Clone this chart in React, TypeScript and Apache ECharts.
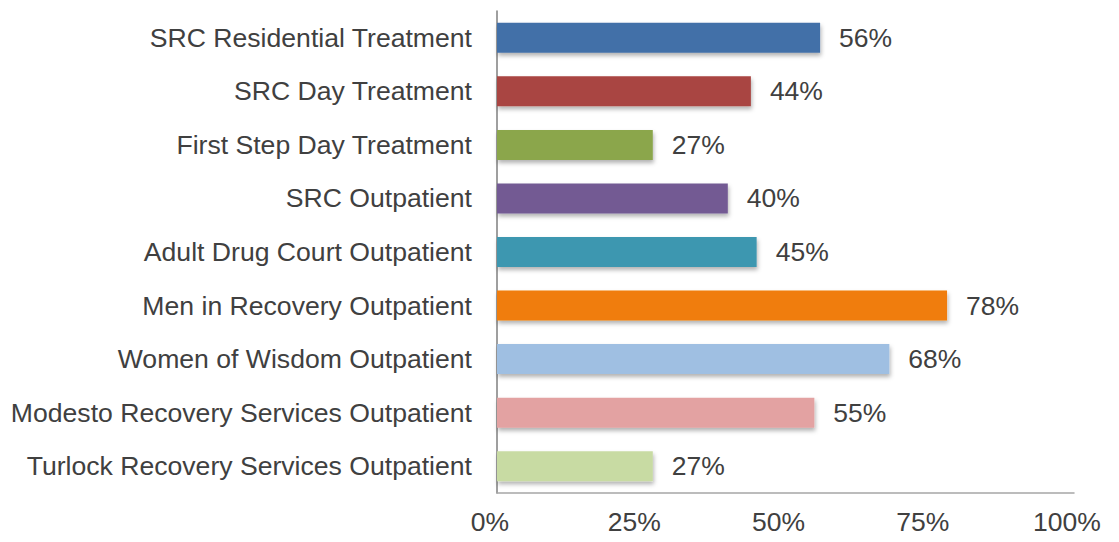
import React, { useEffect, useRef } from "react";
import * as echarts from "echarts";

const categories = [
  "SRC Residential Treatment",
  "SRC Day Treatment",
  "First Step Day Treatment",
  "SRC Outpatient",
  "Adult Drug Court Outpatient",
  "Men in Recovery Outpatient",
  "Women of Wisdom Outpatient",
  "Modesto Recovery Services Outpatient",
  "Turlock Recovery Services Outpatient",
];
const values = [56, 44, 27, 40, 45, 78, 68, 55, 27];
const barColors = [
  "#4370a8",
  "#a94542",
  "#8ba64b",
  "#735a93",
  "#3d97b0",
  "#f07d08",
  "#9fbfe2",
  "#e3a2a2",
  "#c8dba3",
];
const xTicks = [0, 25, 50, 75, 100];

export default function App() {
  const ref = useRef<HTMLDivElement>(null);
  useEffect(() => {
    if (!ref.current) return;
    const chart = echarts.init(ref.current, null, { renderer: "svg" });
    const font = "'Liberation Sans', Arial, sans-serif";
    chart.setOption({
      animation: false,
      backgroundColor: "#ffffff",
      grid: { left: 497, right: 45, top: 11, bottom: 49, containLabel: false },
      xAxis: {
        type: "value",
        min: xTicks[0],
        max: xTicks[xTicks.length - 1],
        interval: 25,
        splitLine: { show: false },
        axisTick: { show: false },
        axisLine: { show: true, lineStyle: { color: "#a6a6a6", width: 1.5 } },
        axisLabel: {
          formatter: (v: number) => v + "%",
          fontSize: 26.5,
          fontFamily: font,
          color: "#404040",
          margin: 15,
          padding: [0, 14, 0, 0],
        },
      },
      yAxis: {
        type: "category",
        data: categories,
        inverse: true,
        axisTick: { show: false },
        axisLine: { show: true, lineStyle: { color: "#7f7f7f", width: 1.5 } },
        axisLabel: {
          fontSize: 26.6,
          fontFamily: font,
          color: "#404040",
          margin: 25,
        },
      },
      series: [
        {
          type: "bar",
          barWidth: 30,
          data: values.map((v, i) => ({
            value: v,
            itemStyle: {
              color: barColors[i],
              shadowColor: "rgba(0,0,0,0.3)",
              shadowBlur: 4,
              shadowOffsetY: 3,
              shadowOffsetX: 1,
            },
          })),
          label: {
            show: true,
            position: "right",
            distance: 19,
            formatter: (p: any) => p.value + "%",
            fontSize: 26.5,
            fontFamily: font,
            color: "#404040",
          },
        },
      ],
    });
    return () => chart.dispose();
  }, []);
  return <div ref={ref} style={{ width: 1119, height: 542, margin: -8 }} />;
}
